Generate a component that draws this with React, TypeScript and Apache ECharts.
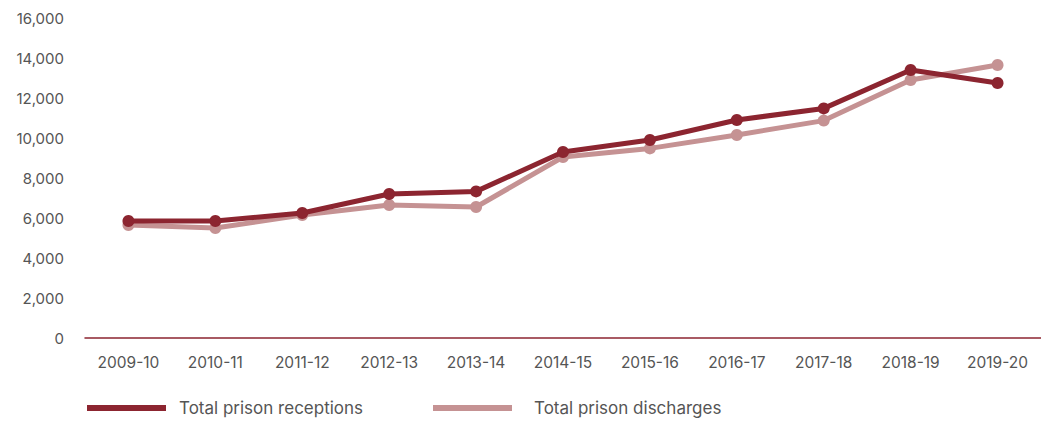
import React, { useEffect, useRef } from "react";
import * as echarts from "echarts";

const categories = ["2009-10", "2010-11", "2011-12", "2012-13", "2013-14", "2014-15", "2015-16", "2016-17", "2017-18", "2018-19", "2019-20"];
const receptions = [5850, 5850, 6250, 7200, 7330, 9300, 9900, 10900, 11480, 13400, 12750];
const discharges = [5650, 5500, 6150, 6650, 6550, 9050, 9480, 10150, 10870, 12900, 13650];
const yTicks = { min: 0, max: 16000, interval: 2000 };

const DARK = "#8C2530";
const PINK = "#C59293";
const FONT = "Inter, 'Noto Sans', sans-serif";

export default function App() {
  const ref = useRef<HTMLDivElement>(null);
  useEffect(() => {
    if (!ref.current) return;
    const chart = echarts.init(ref.current, undefined, { renderer: "svg" });
    chart.setOption({
      animation: false,
      grid: { left: 85, right: 0, top: 18, bottom: 83, containLabel: false },
      xAxis: {
        type: "category",
        data: categories,
        boundaryGap: true,
        axisLine: { lineStyle: { color: DARK, width: 1.5 } },
        axisTick: { show: false },
        axisLabel: { color: "#555", fontSize: 15.5, fontFamily: FONT, margin: 16, interval: 0 },
      },
      yAxis: {
        type: "value",
        min: yTicks.min,
        max: yTicks.max,
        interval: yTicks.interval,
        axisLine: { show: false },
        axisTick: { show: false },
        splitLine: { show: false },
        axisLabel: {
          color: "#555",
          fontSize: 15,
          fontFamily: FONT,
          margin: 21,
          formatter: (v: number) => v.toLocaleString("en-US"),
        },
      },
      legend: [
        {
          data: ["Total prison receptions"],
          left: 82,
          top: 393,
          icon: "rect",
          itemWidth: 79,
          itemHeight: 6,
          textStyle: { color: "#555", fontSize: 17, fontFamily: FONT, lineHeight: 20, padding: [0, 0, 0, 8] },
        },
        {
          data: ["Total prison discharges"],
          left: 428,
          top: 393,
          icon: "rect",
          itemWidth: 79,
          itemHeight: 6,
          textStyle: { color: "#555", fontSize: 17, fontFamily: FONT, lineHeight: 20, padding: [0, 0, 0, 17] },
        },
      ],
      series: [
        {
          name: "Total prison discharges",
          type: "line",
          data: discharges,
          color: PINK,
          lineStyle: { width: 5, color: PINK },
          itemStyle: { color: PINK },
          symbol: "circle",
          symbolSize: 12,
          z: 2,
        },
        {
          name: "Total prison receptions",
          type: "line",
          data: receptions,
          color: DARK,
          lineStyle: { width: 5, color: DARK },
          itemStyle: { color: DARK },
          symbol: "circle",
          symbolSize: 12,
          z: 3,
        },
      ],
    });
    return () => chart.dispose();
  }, []);
  return (
    <div
      ref={ref}
      style={{ position: "absolute", left: 0, top: 0, width: 1041, height: 421, background: "#fff" }}
    />
  );
}
